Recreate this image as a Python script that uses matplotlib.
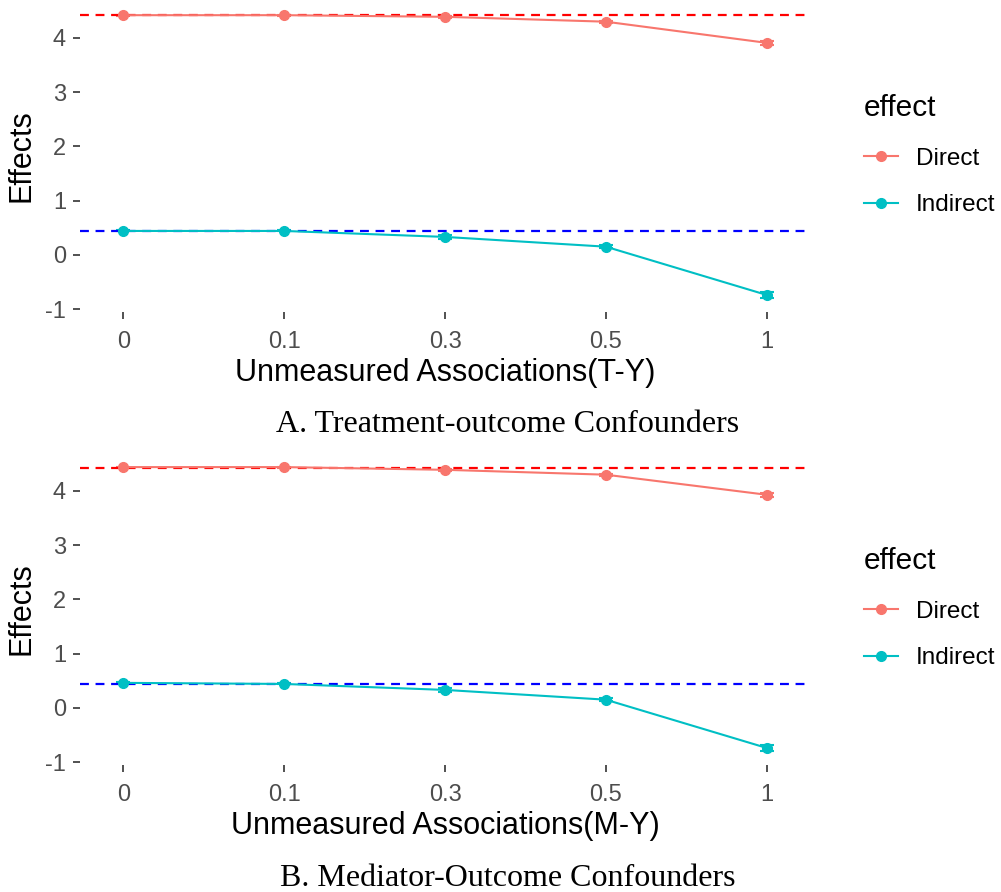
import matplotlib
matplotlib.use('Agg')
import matplotlib.pyplot as plt
from matplotlib.lines import Line2D
import numpy as np

# data
levels = ['0', '0.1', '0.3', '0.5', '1']
direct_a = [4.42, 4.42, 4.39, 4.30, 3.91]
direct_a_err = [0.01, 0.01, 0.02, 0.02, 0.04]
indirect_a = [0.44, 0.44, 0.33, 0.15, -0.74]
indirect_a_err = [0.01, 0.01, 0.03, 0.03, 0.05]
direct_b = [4.44, 4.44, 4.39, 4.30, 3.93]
direct_b_err = [0.01, 0.01, 0.02, 0.02, 0.04]
indirect_b = [0.46, 0.44, 0.33, 0.15, -0.74]
indirect_b_err = [0.01, 0.01, 0.03, 0.03, 0.05]
true_direct = 4.43
true_indirect = 0.44

panels = [
    ('Unmeasured Associations(T-Y)', 'A. Treatment-outcome Confounders',
     direct_a, direct_a_err, indirect_a, indirect_a_err),
    ('Unmeasured Associations(M-Y)', 'B. Mediator-Outcome Confounders',
     direct_b, direct_b_err, indirect_b, indirect_b_err),
]

DIRECT_COL = '#F8766D'
INDIRECT_COL = '#00BFC4'
W, H = 1001, 892
plt.rcParams['font.family'] = ['Liberation Sans', 'DejaVu Sans']
plt.rcParams['axes.unicode_minus'] = False

fig = plt.figure(figsize=(W / 100, H / 100), dpi=100)

# pixel boxes for the two panels: (left, top, right, bottom)
boxes = [(80, 0, 810, 312), (80, 453, 810, 765)]
legend_tops = [68, 521]
caption_y = [425, 878]

x = np.arange(len(levels))
for (xlab, caption, d, de, ind, inde), box, lt, cy in zip(panels, boxes, legend_tops, caption_y):
    l, t, r, b = box
    ax = fig.add_axes([l / W, 1 - b / H, (r - l) / W, (b - t) / H])
    for s in ax.spines.values():
        s.set_visible(False)
    ax.errorbar(x, d, yerr=de, color=DIRECT_COL, lw=1.5, capsize=5, marker='o', ms=7,
                elinewidth=1.5, capthick=1.5)
    ax.errorbar(x, ind, yerr=inde, color=INDIRECT_COL, lw=1.5, capsize=5, marker='o', ms=7,
                elinewidth=1.5, capthick=1.5)
    ax.axhline(true_direct, color='red', ls=(0, (4, 3)), lw=1.6)
    ax.axhline(true_indirect, color='blue', ls=(0, (4, 3)), lw=1.6)
    ax.set_xlim(-0.27, 4.27)
    ax.set_ylim(-1.055, 4.70)
    ax.set_xticks(x)
    ax.set_xticklabels(levels)
    ax.set_yticks([-1, 0, 1, 2, 3, 4])
    ax.tick_params(axis='both', colors='#333333', labelcolor='#4D4D4D', labelsize=17,
                   length=5, width=1.2)
    ax.tick_params(axis='x', pad=9)
    ax.tick_params(axis='y', pad=5)
    ax.set_xlabel(xlab, fontsize=22, color='black', labelpad=3)
    ax.set_ylabel('Effects', fontsize=22, color='black', labelpad=6)
    handles = [Line2D([], [], color=DIRECT_COL, marker='o', ms=7, lw=1.5),
               Line2D([], [], color=INDIRECT_COL, marker='o', ms=7, lw=1.5)]
    leg = fig.legend(handles, ['Direct', 'Indirect'], title='effect', loc='upper left',
                     bbox_to_anchor=(838 / W, 1 - lt / H), frameon=False, fontsize=17.5,
                     title_fontsize=21.5, alignment='left', handlelength=1.4,
                     handletextpad=0.75, labelspacing=1.0, borderpad=0.55)
    leg._legend_box.sep = 19  # more room under the title, like ggplot
    fig.text(508 / W, 1 - cy / H, caption, ha='center', va='center', fontsize=23,
             family='Liberation Serif', color='black')

plt.savefig('out.png', dpi=100)
